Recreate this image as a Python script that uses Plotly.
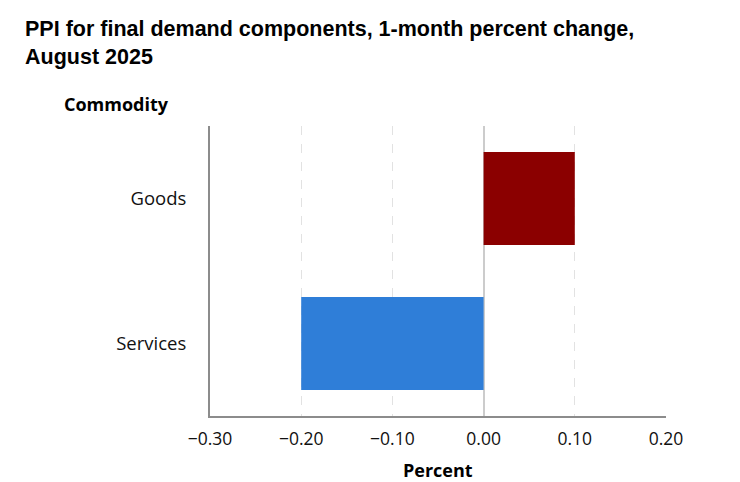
import plotly.graph_objects as go

categories = ["Goods", "Services"]
values = [0.10, -0.20]
colors = ["#8B0000", "#2F7ED8"]
tick_vals = [-0.30, -0.20, -0.10, 0.00, 0.10, 0.20]
tick_text = ["\u22120.30", "\u22120.20", "\u22120.10", "0.00", "0.10", "0.20"]

fig = go.Figure()
fig.add_trace(go.Bar(
    y=categories, x=values, orientation="h",
    marker=dict(color=colors, line=dict(width=0)),
    width=0.64, showlegend=False, hoverinfo="skip",
))

fig.update_layout(
    width=740, height=482,
    margin=dict(l=210, r=74, t=126, b=66),
    paper_bgcolor="white", plot_bgcolor="white",
    title=dict(
        text="<b>PPI for final demand components, 1-month percent change,<br>August 2025</b>",
        x=25 / 740, xanchor="left", y=1 - 36 / 482, yanchor="top",
        font=dict(family="Liberation Sans, Arial", size=21.5, color="#000"),
    ),
    xaxis=dict(
        range=[-0.30, 0.20], tickvals=tick_vals, ticktext=tick_text,
        showgrid=True, gridcolor="#e2e2e2", griddash="dash", gridwidth=1,
        zeroline=True, zerolinecolor="#cccccc", zerolinewidth=1.5,
        showline=True, linecolor="#8c8c8c", linewidth=2,
        ticks="", ticklabelstandoff=6,
        tickfont=dict(family="Open Sans, Noto Sans", size=17.5, color="#111"),
    ),
    yaxis=dict(
        categoryorder="array", categoryarray=["Services", "Goods"],
        range=[-0.5, 1.5],
        showgrid=False, zeroline=False,
        showline=True, linecolor="#8c8c8c", linewidth=2,
        ticks="", ticklabelstandoff=18,
        tickfont=dict(family="Open Sans, Noto Sans", size=18.5, color="#111"),
    ),
    annotations=[
        dict(text="<b>Commodity</b>", xref="paper", yref="paper",
             x=-(210 - 62) / 456, xanchor="left", y=1 + (126 - 104) / 290, yanchor="middle",
             showarrow=False, font=dict(family="Open Sans, Noto Sans", size=18, color="#000")),
        dict(text="<b>Percent</b>", xref="paper", yref="paper",
             x=(438 - 210) / 456, xanchor="center", y=-(470 - 416) / 290, yanchor="middle",
             showarrow=False, font=dict(family="Open Sans, Noto Sans", size=18, color="#000")),
    ],
)

fig.write_html("out.html", config={"displayModeBar": False},
               post_script="document.body.style.margin='0px';")
